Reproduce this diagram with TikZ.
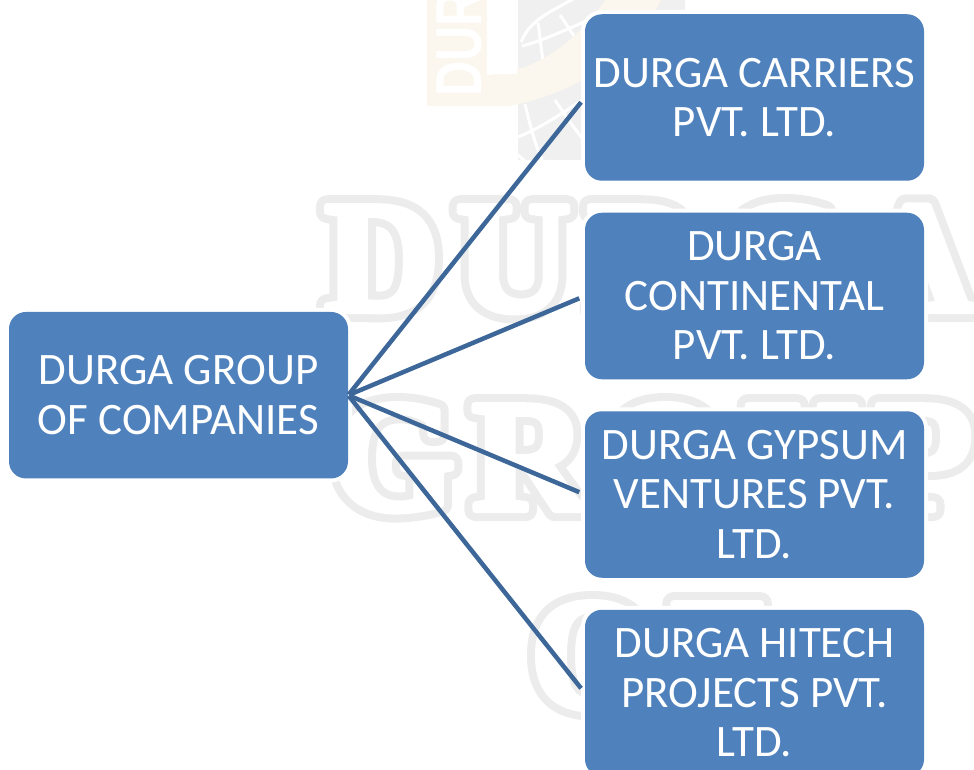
\documentclass[tikz,border=0pt]{standalone}
\usepackage{graphicx}
\usepackage{fontspec}
\setmainfont{Carlito}
\newfontfamily\wmfont{Liberation Serif}[BoldFont={Liberation Serif Bold},LetterSpace=10]
\newfontfamily\logofont{Liberation Sans}[BoldFont={Liberation Sans Bold}]
\definecolor{boxblue}{HTML}{4F81BD}
\definecolor{linkblue}{HTML}{3D6798}
\definecolor{wmtan}{HTML}{FBF7EE}
\definecolor{wmglobe}{HTML}{F0F0F0}
\tikzset{
  orgbox/.style={rectangle,rounded corners=17pt,fill=boxblue,text=white,
    minimum width=339pt,minimum height=166.5pt,inner sep=0pt,text width=339pt,align=flush center,
    font=\fontsize{45}{49.5}\selectfont,
    preaction={draw=white,line width=8pt}},
  link/.style={draw=linkblue,line width=4.5pt},
  wm/.style={inner sep=0pt,anchor=base west,font=\wmfont\bfseries\fontsize{160}{160}\selectfont},
  grid line/.style={draw=white,line width=3pt}
}
\newcommand{\ringtext}[1]{\special{pdf:code q 1 Tr 22 w 0.925 G 1 j}#1\special{pdf:code Q}}
\newcommand{\coretext}[1]{\special{pdf:code q 2 Tr 6 w 1 G 1 g 1 j}#1\special{pdf:code Q}}
\begin{document}
\begin{tikzpicture}[x=1pt,y=-1pt]
\useasboundingbox (0,0) rectangle (974,770);
\begin{scope}
\clip (0,0) rectangle (974,770);
% watermark logo: globe
\fill[wmglobe] (518,-2) rectangle (685,160);
\draw[grid line] (521,42) .. controls (530,20) and (550,12) .. (575,-2);
\draw[grid line] (522,46) .. controls (545,40) and (565,30) .. (600,15);
\draw[grid line] (538,23) .. controls (540,35) and (541,50) .. (544,66);
\draw[grid line] (560,15) -- (574,36);
\draw[grid line] (525,104) .. controls (530,125) and (535,145) .. (543,162);
\draw[grid line] (555,100) .. controls (565,115) and (572,125) .. (582,138);
\draw[grid line] (518,137) .. controls (540,128) and (560,115) .. (582,100);
\draw[grid line] (518,155) -- (526,162);
% watermark logo: swoosh and letters
\fill[wmtan] (427,-2) -- (487,-2) -- (487,75) .. controls (530,72) and (570,50) .. (607,-2)
  -- (662,-2) .. controls (640,45) and (590,90) .. (510,106) -- (427,106) -- cycle;
\fill[white] (487,-2) rectangle (517,74.5);
\node[inner sep=0pt,anchor=base west,rotate=90,text=white,font=\logofont\bfseries\fontsize{65}{65}\selectfont] (wl) at (481,97) {\scalebox{0.75}[1]{DUR}};
% watermark words: grey ring, then white core
\node[wm] (wa) at (324,311) {\ringtext{DURGA}};
\node[wm] (wb) at (331,510) {\ringtext{GROUP}};
\node[wm] (wc) at (530,708) {\ringtext{OF}};
\node[wm,text=white] (wa2) at (324,311) {\coretext{DURGA}};
\node[wm,text=white] (wb2) at (331,510) {\coretext{GROUP}};
\node[wm,text=white] (wc2) at (530,708) {\coretext{OF}};
% boxes
\node[orgbox] (parent) at (178.5,395.2) {DURGA GROUP\\OF COMPANIES};
\node[orgbox] (c1) at (754.5,97.5) {DURGA CARRIERS\\PVT. LTD.};
\node[orgbox] (c2) at (754.5,296) {DURGA\\CONTINENTAL\\PVT. LTD.};
\node[orgbox] (c3) at (754.5,494.5) {DURGA GYPSUM\\VENTURES PVT.\\LTD.};
\node[orgbox] (c4) at (754.5,693) {DURGA HITECH\\PROJECTS PVT.\\LTD.};
\foreach \c in {c1,c2,c3,c4}
  \draw[link,shorten <=1pt,shorten >=6pt] (parent.east) -- (\c.west);
\end{scope}
\end{tikzpicture}
\end{document}
